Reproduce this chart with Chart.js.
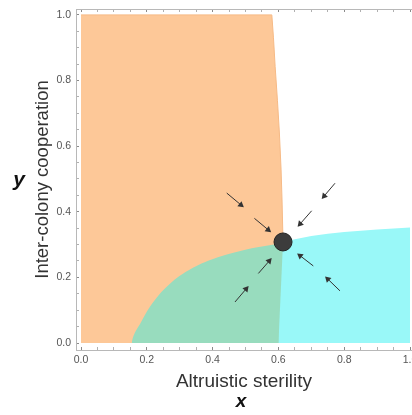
<!DOCTYPE html>
<html>
<head>
<meta charset="utf-8">
<script src="https://cdn.jsdelivr.net/npm/chart.js@4"></script>
<style>
  html, body { margin: 0; padding: 0; background: #fff; overflow: hidden; }
  #wrap { width: 412px; height: 415px; position: relative; }
  canvas { display: block; }
</style>
</head>
<body>
<div id="wrap"><canvas id="fase"></canvas></div>
<script>
// regioes do diagrama de fase (x = esterilidade altruista, y = cooperacao)
var laranjaX = [0, 0.58, 0.585, 0.59, 0.597, 0.603, 0.608, 0.611, 0.614];
var laranjaY = [1, 1, 0.93, 0.843, 0.74, 0.64, 0.53, 0.436, 0.308];

var verdeX = [0.154, 0.157, 0.163, 0.170, 0.179, 0.193, 0.210, 0.245, 0.296, 0.357, 0.438, 0.519, 0.590, 0.614];
var verdeY = [0, 0.014, 0.03, 0.043, 0.057, 0.083, 0.111, 0.156, 0.202, 0.238, 0.268, 0.289, 0.301, 0.308];

var cianoX = [0.6, 0.614, 0.65, 0.7, 0.75, 0.8, 0.85, 0.9, 0.95, 1.0];
var cianoY = [0, 0.308, 0.316, 0.326, 0.333, 0.338, 0.342, 0.346, 0.349, 0.352];

// setas (inicio -> fim)
var setaX0 = [0.443, 0.527, 0.772, 0.701, 0.706, 0.787, 0.539, 0.468];
var setaY0 = [0.457, 0.380, 0.487, 0.403, 0.235, 0.159, 0.212, 0.125];
var setaX1 = [0.486, 0.569, 0.739, 0.666, 0.666, 0.750, 0.572, 0.502];
var setaY1 = [0.421, 0.345, 0.448, 0.363, 0.266, 0.195, 0.250, 0.165];

// ponto de equilibrio
var equilibrioX = [0.614];
var equilibrioY = [0.308];

var ticksMaiores = [0, 0.2, 0.4, 0.6, 0.8, 1.0];
var ticksLabels = ['0.0', '0.2', '0.4', '0.6', '0.8', '1.0'];
var ticksMenores = [];
for (var k = 0; k <= 20; k++) ticksMenores.push(k / 20);

function pontos(xs, ys) {
    return xs.map(function (v, i) { return { x: v, y: ys[i] }; });
}

function rotuloTick(value) {
    var i = ticksMaiores.findIndex(function (m) { return Math.abs(m - value) < 1e-6; });
    return i >= 0 ? ticksLabels[i] : '';
}

function corTick(ctx) {
    var v = ctx.tick ? ctx.tick.value : 0;
    return rotuloTick(v) !== '' ? '#8a8a8a' : '#b0b0b0';
}

function montarTicks(axis) {
    axis.ticks = ticksMenores.map(function (v) { return { value: v }; });
}

function semPadding(s) {
    s.paddingLeft = 0;
    s.paddingRight = 0;
    s.paddingTop = 0;
    s.paddingBottom = 0;
}

var setas = setaX0.map(function (x0, i) {
    return {
        type: 'line',
        data: [{ x: x0, y: setaY0[i] }, { x: setaX1[i], y: setaY1[i] }],
        borderColor: '#333',
        backgroundColor: '#333',
        borderWidth: 1,
        pointRadius: [0, 3.8],
        pointStyle: 'triangle',
        pointBorderWidth: 0,
        fill: false,
        order: 1,
        rotation: function (ctx) {
            var sx = ctx.chart.scales.x, sy = ctx.chart.scales.y;
            var dx = sx.getPixelForValue(setaX1[i]) - sx.getPixelForValue(x0);
            var dy = sy.getPixelForValue(setaY1[i]) - sy.getPixelForValue(setaY0[i]);
            return Math.atan2(dx, -dy) * 180 / Math.PI;
        }
    };
});

var letrasEixos = {
    id: 'letrasEixos',
    afterDraw: function (chart) {
        var c = chart.ctx;
        c.save();
        c.fillStyle = '#111';
        c.textAlign = 'center';
        c.textBaseline = 'middle';
        c.font = 'italic bold 21px "Liberation Sans", Arial, sans-serif';
        c.fillText('y', 19, 180);
        c.font = 'italic bold 19px "Liberation Sans", Arial, sans-serif';
        c.fillText('x', 241, 402);
        c.restore();
    }
};

Chart.defaults.font.family = '"Liberation Sans", Arial, sans-serif';

var ctx = document.getElementById('fase').getContext('2d');
var grafico = new Chart(ctx, {
    type: 'scatter',
    data: {
        datasets: [
            {
                type: 'line',
                label: 'equilibrio',
                data: pontos(equilibrioX, equilibrioY),
                showLine: false,
                pointRadius: 9,
                pointBackgroundColor: '#3c3c3c',
                pointBorderColor: '#222',
                pointBorderWidth: 1,
                order: 0
            }
        ].concat(setas).concat([
            {
                type: 'line',
                label: 'ciano',
                data: pontos(cianoX, cianoY),
                backgroundColor: '#99f8f8',
                borderWidth: 0,
                pointRadius: 0,
                fill: 'origin',
                order: 3
            },
            {
                type: 'line',
                label: 'verde',
                data: pontos(verdeX, verdeY),
                backgroundColor: '#98dcbe',
                borderWidth: 0,
                pointRadius: 0,
                tension: 0.3,
                fill: 'origin',
                order: 4
            },
            {
                type: 'line',
                label: 'laranja',
                data: pontos(laranjaX, laranjaY),
                backgroundColor: '#fdc898',
                borderColor: '#f6ba86',
                borderWidth: 1,
                pointRadius: 0,
                fill: 'origin',
                order: 5
            }
        ])
    },
    options: {
        responsive: true,
        maintainAspectRatio: false,
        animation: false,
        layout: { padding: 0, autoPadding: false },
        plugins: {
            legend: { display: false },
            tooltip: { enabled: false }
        },
        scales: {
            x: {
                type: 'linear',
                position: 'bottom',
                min: -0.0152,
                max: 1.006,
                afterBuildTicks: montarTicks,
                afterFit: function (s) { s.height = 65; semPadding(s); },
                grid: { drawOnChartArea: false, tickLength: -3, tickColor: corTick },
                border: { color: '#b8b8b8' },
                ticks: { callback: rotuloTick, autoSkip: false, maxRotation: 0, padding: 7, color: '#555', font: { size: 10.5 } },
                title: { display: true, text: 'Altruistic sterility', color: '#333', font: { size: 19 }, padding: { top: 0, bottom: 22 } }
            },
            x2: {
                type: 'linear',
                position: 'top',
                min: -0.0152,
                max: 1.006,
                afterBuildTicks: montarTicks,
                afterFit: function (s) { s.height = 9; semPadding(s); },
                grid: { drawOnChartArea: false, tickLength: -3, tickColor: corTick },
                border: { color: '#b8b8b8' },
                ticks: { display: false }
            },
            y: {
                type: 'linear',
                position: 'left',
                min: -0.0213,
                max: 1.018,
                afterBuildTicks: montarTicks,
                afterFit: function (s) { s.width = 76; semPadding(s); },
                grid: { drawOnChartArea: false, tickLength: -3, tickColor: corTick },
                border: { color: '#b8b8b8' },
                ticks: { callback: rotuloTick, autoSkip: false, padding: 8, color: '#555', font: { size: 10.5 } },
                title: { display: true, text: 'Inter-colony cooperation', color: '#333', font: { size: 18.5 }, padding: { top: 32, bottom: 0 } }
            }
        }
    },
    plugins: [letrasEixos]
});
</script>
</body>
</html>
